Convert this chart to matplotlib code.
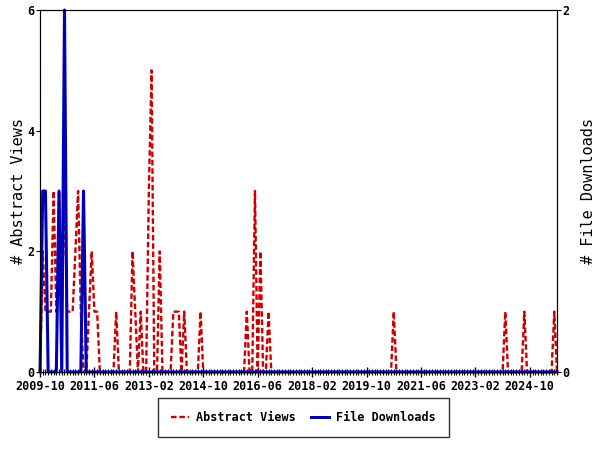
import matplotlib
matplotlib.use("Agg")
import matplotlib.pyplot as plt
from matplotlib.ticker import MultipleLocator, FixedLocator
from matplotlib.lines import Line2D

# monthly counts, first month is 2009-10
start_month = "2009-10"
abstract_views = [
    0, 2, 1, 1, 1, 3, 1, 3, 1, 3, 1, 1, 1, 2, 3, 1, 0, 0, 1, 2,
    1, 1, 0, 0, 0, 0, 0, 0, 1, 0, 0, 0, 0, 0, 2, 1, 0, 1, 0, 0,
    3, 5, 0, 0, 2, 0, 0, 0, 0, 1, 1, 1, 0, 1, 0, 0, 0, 0, 0, 1,
    0, 0, 0, 0, 0, 0, 0, 0, 0, 0, 0, 0, 0, 0, 0, 0, 1, 0, 0, 3,
    0, 2, 0, 0, 1, 0, 0, 0, 0, 0, 0, 0, 0, 0, 0, 0, 0, 0, 0, 0,
    0, 0, 0, 0, 0, 0, 0, 0, 0, 0, 0, 0, 0, 0, 0, 0, 0, 0, 0, 0,
    0, 0, 0, 0, 0, 0, 0, 0, 0, 0, 1, 0, 0, 0, 0, 0, 0, 0, 0, 0,
    0, 0, 0, 0, 0, 0, 0, 0, 0, 0, 0, 0, 0, 0, 0, 0, 0, 0, 0, 0,
    0, 0, 0, 0, 0, 0, 0, 0, 0, 0, 0, 1, 0, 0, 0, 0, 0, 0, 1, 0,
    0, 0, 0, 0, 0, 0, 0, 0, 0, 1, 0,
]
file_downloads = [
    0, 1, 1, 0, 0, 0, 0, 1, 0, 2, 0, 0, 0, 0, 0, 0, 1, 0, 0, 0,
    0, 0, 0, 0, 0, 0, 0, 0, 0, 0, 0, 0, 0, 0, 0, 0, 0, 0, 0, 0,
    0, 0, 0, 0, 0, 0, 0, 0, 0, 0, 0, 0, 0, 0, 0, 0, 0, 0, 0, 0,
    0, 0, 0, 0, 0, 0, 0, 0, 0, 0, 0, 0, 0, 0, 0, 0, 0, 0, 0, 0,
    0, 0, 0, 0, 0, 0, 0, 0, 0, 0, 0, 0, 0, 0, 0, 0, 0, 0, 0, 0,
    0, 0, 0, 0, 0, 0, 0, 0, 0, 0, 0, 0, 0, 0, 0, 0, 0, 0, 0, 0,
    0, 0, 0, 0, 0, 0, 0, 0, 0, 0, 0, 0, 0, 0, 0, 0, 0, 0, 0, 0,
    0, 0, 0, 0, 0, 0, 0, 0, 0, 0, 0, 0, 0, 0, 0, 0, 0, 0, 0, 0,
    0, 0, 0, 0, 0, 0, 0, 0, 0, 0, 0, 0, 0, 0, 0, 0, 0, 0, 0, 0,
    0, 0, 0, 0, 0, 0, 0, 0, 0, 0, 0,
]
tick_labels = ["2009-10", "2011-06", "2013-02", "2014-10", "2016-06",
               "2018-02", "2019-10", "2021-06", "2023-02", "2024-10"]
tick_step = 20  # months between labelled ticks

RED = "#cc0000"
BLUE = "#0000bb"

plt.rcParams["font.family"] = ["DejaVu Sans Mono"]
plt.rcParams["font.weight"] = "bold"
plt.rcParams["lines.scale_dashes"] = False

months = list(range(len(abstract_views)))

fig = plt.figure(figsize=(6, 4.5), dpi=100)
ax = fig.add_axes([40 / 600, 1 - 372 / 450, 517 / 600, 362 / 450])
ax2 = ax.twinx()

ax.plot(months, abstract_views, color=RED, lw=1.7, dashes=(4, 2), clip_on=False)
ax2.plot(months, file_downloads, color=BLUE, lw=2.2, clip_on=False)

ax.set_xlim(0, len(months) - 1)
ax.set_ylim(0, 6)
ax2.set_ylim(0, 2)

ax.xaxis.set_major_locator(FixedLocator([i * tick_step for i in range(len(tick_labels))]))
ax.set_xticklabels(tick_labels)
ax.xaxis.set_minor_locator(MultipleLocator(1))
ax.set_yticks([0, 2, 4, 6])
ax2.set_yticks([0, 2])

ax.tick_params(axis="x", which="major", direction="inout", length=7, width=1, labelsize=8.5, pad=2)
ax.tick_params(axis="x", which="minor", direction="inout", length=4, width=0.8)
ax.tick_params(axis="y", direction="out", length=3, labelsize=8.5, pad=1)
ax2.tick_params(axis="y", direction="out", length=3, labelsize=8.5, pad=1)

ax.set_ylabel("# Abstract Views", fontsize=11, labelpad=1)
ax2.set_ylabel("# File Downloads", fontsize=11, labelpad=8)

handles = [Line2D([], [], color=RED, lw=1.7, dashes=(4, 2)),
           Line2D([], [], color=BLUE, lw=2.2)]
leg = fig.legend(handles, ["Abstract Views", "File Downloads"], loc="center",
                 bbox_to_anchor=(0.506, 0.072), ncol=2, fontsize=8.5,
                 frameon=True, fancybox=False, edgecolor="black",
                 handlelength=1.5, columnspacing=1.3, borderpad=1.1, handletextpad=0.6)
leg.get_frame().set_linewidth(1.0)

fig.savefig("out.png", dpi=100)
